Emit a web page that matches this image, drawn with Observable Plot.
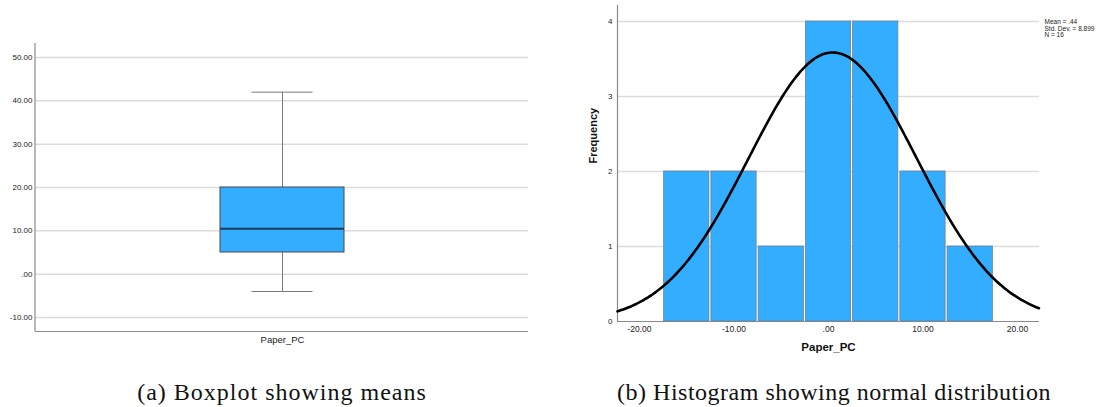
<!DOCTYPE html>
<html>
<head>
<meta charset="utf-8">
<script src="https://cdn.jsdelivr.net/npm/d3@7"></script>
<script src="https://cdn.jsdelivr.net/npm/@observablehq/plot@0.6"></script>
<style>
  body { margin: 0; background: #fff; }
  #wrap { position: relative; width: 1115px; height: 407px; overflow: hidden; }
  .panel { position: absolute; top: 0; }
  .cap { position: absolute; top: 379px; font-family: "Liberation Serif", "Times New Roman", serif; font-size: 24px; color: #111; white-space: nowrap; transform: translateX(-50%); }
</style>
</head>
<body>
<div id="wrap">
  <div id="left" class="panel" style="left:0px"></div>
  <div id="right" class="panel" style="left:560px"></div>
  <div class="cap" style="left:282px; letter-spacing:1px">(a) Boxplot showing means</div>
  <div class="cap" style="left:834px; letter-spacing:0.5px">(b) Histogram showing normal distribution</div>
</div>
<script>
// ---- Boxplot data (Paper_PC) ----
const boxCategories = ["Paper_PC"];
const boxMin = [-4];
const boxQ1 = [5];
const boxMedian = [10.5];
const boxQ3 = [20];
const boxMax = [42];
const boxTicks = [-10, 0, 10, 20, 30, 40, 50];

// ---- Histogram data (Paper_PC) ----
const binStart = [-17.5, -12.5, -7.5, -2.5, 2.5, 7.5, 12.5];
const binEnd = [-12.5, -7.5, -2.5, 2.5, 7.5, 12.5, 17.5];
const binCount = [2, 2, 1, 4, 4, 2, 1];
const histXTicks = [-20, -10, 0, 10, 20];
const histYTicks = [0, 1, 2, 3, 4];
const statMean = 0.44;
const statSD = 8.899;
const statN = 16;
const legendLines = ["Mean = .44", "Std. Dev. = 8.899", "N = 16"];

const spssFmt = d => {
  if (d === 0) return ".00";
  return d.toFixed(2);
};

const BLUE = "#33adff";
const GRID = "#dcdcdc";
const AXIS = "#8a8a8a";

// ---------- Left: boxplot ----------
const boxRows = boxCategories.map((c, i) => ({
  cat: c, min: boxMin[i], q1: boxQ1[i], med: boxMedian[i], q3: boxQ3[i], max: boxMax[i]
}));

function leftAxisLine(index, scales, values, dims) {
  const g = d3.create("svg:g");
  g.append("line")
    .attr("x1", dims.marginLeft).attr("x2", dims.marginLeft)
    .attr("y1", dims.marginTop).attr("y2", dims.height - dims.marginBottom)
    .attr("stroke", AXIS).attr("stroke-width", 1.2);
  return g.node();
}

const left = Plot.plot({
  width: 540, height: 360,
  marginLeft: 35, marginRight: 12, marginTop: 43, marginBottom: 29,
  style: { fontFamily: "'Liberation Sans', Arial, sans-serif", color: "#222", background: "#fff" },
  x: { type: "band", domain: boxCategories, padding: 0.598, label: null },
  y: { domain: [-13.23, 53.23], label: null },
  marks: [
    Plot.gridY(boxTicks, { stroke: GRID, strokeOpacity: 1, strokeWidth: 1.5 }),
    Plot.axisY(boxTicks, { tickSize: 0, tickPadding: 3, tickFormat: spssFmt, fontSize: 8, label: null }),
    Plot.axisX({ tickSize: 0, tickPadding: 5, fontSize: 9.5, label: null }),
    Plot.ruleY([-13.23], { stroke: AXIS, strokeWidth: 1.2 }),
    leftAxisLine,
    Plot.ruleX(boxRows, { x: "cat", y1: "min", y2: "max", stroke: "#7a7a7a", strokeWidth: 1 }),
    Plot.tickY(boxRows, { x: "cat", y: "max", stroke: "#7a7a7a", strokeWidth: 1, insetLeft: 31.5, insetRight: 31.5 }),
    Plot.tickY(boxRows, { x: "cat", y: "min", stroke: "#7a7a7a", strokeWidth: 1, insetLeft: 31.5, insetRight: 31.5 }),
    Plot.barY(boxRows, { x: "cat", y1: "q1", y2: "q3", fill: BLUE, stroke: "#4a4a4a", strokeWidth: 1 }),
    Plot.tickY(boxRows, { x: "cat", y: "med", stroke: "#1d3d55", strokeWidth: 2 })
  ]
});
document.getElementById("left").append(left);

// ---------- Right: histogram ----------
const bins = binStart.map((s, i) => ({ x1: s, x2: binEnd[i], count: binCount[i] }));
const binWidth = binEnd[0] - binStart[0];
const xDomain = [-22.33, 22.33];
// Normal curve overlay defined by the chart's stated Mean, Std. Dev. and N
const curve = d3.range(xDomain[0], xDomain[1] + 0.001, 0.2).map(x => ({
  x,
  y: statN * binWidth / (statSD * Math.sqrt(2 * Math.PI)) * Math.exp(-0.5 * ((x - statMean) / statSD) ** 2)
}));

const right = Plot.plot({
  width: 555, height: 360,
  marginLeft: 57, marginRight: 76, marginTop: 5, marginBottom: 39,
  style: { fontFamily: "'Liberation Sans', Arial, sans-serif", color: "#222", background: "#fff", overflow: "visible" },
  x: { domain: xDomain, label: null },
  y: { domain: [0, 4.213], label: null },
  marks: [
    Plot.gridY(histYTicks.filter(d => d > 0), { stroke: GRID, strokeOpacity: 1, strokeWidth: 1.5 }),
    Plot.axisY(histYTicks, { tickSize: 0, tickPadding: 5, tickFormat: d => String(d), fontSize: 8, label: null }),
    Plot.axisX(histXTicks, { tickSize: 0, tickPadding: 4, tickFormat: spssFmt, fontSize: 8.5, label: null }),
    Plot.ruleY([0], { stroke: AXIS, strokeWidth: 1.2 }),
    Plot.ruleX([xDomain[0]], { stroke: AXIS, strokeWidth: 1.2 }),
    Plot.rectY(bins, { x1: "x1", x2: "x2", y: "count", fill: BLUE, stroke: "#6d8193", strokeWidth: 0.8, insetLeft: 1, insetRight: 1 }),
    Plot.line(curve, { x: "x", y: "y", stroke: "#000", strokeWidth: 2.6, curve: "natural" }),
    Plot.text([legendLines.join("\n")], { frameAnchor: "top-right", textAnchor: "start", lineAnchor: "top", dx: 5, dy: 14, fontSize: 6.5, lineHeight: 1, fill: "#222" }),
    Plot.text(["Frequency"], { frameAnchor: "left", rotate: -90, dx: -24, fontSize: 11, fontWeight: "bold", fill: "#111" }),
    Plot.text(["Paper_PC"], { frameAnchor: "bottom", dy: 29, fontSize: 11.5, fontWeight: "bold", fill: "#111" })
  ]
});
document.getElementById("right").append(right);
</script>
</body>
</html>
